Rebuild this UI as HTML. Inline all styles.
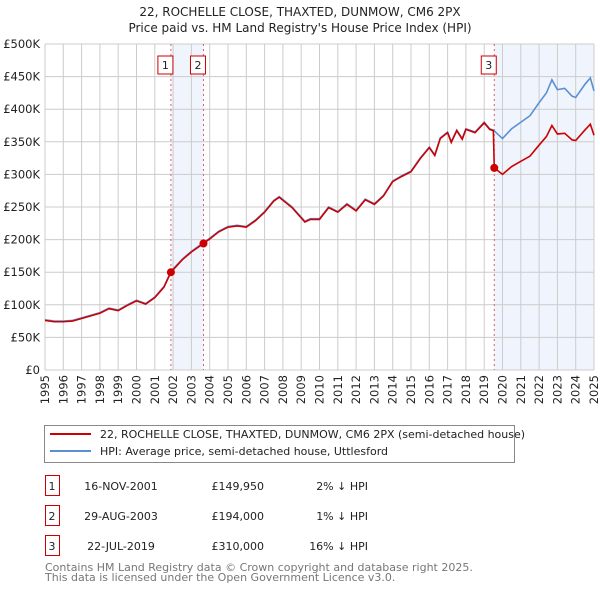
<!DOCTYPE html>
<html><head><meta charset="utf-8"><style>
body{margin:0;background:#fff;font-family:"DejaVu Sans","Liberation Sans",sans-serif;}
svg text{font-family:"DejaVu Sans","Liberation Sans",sans-serif;}
</style></head><body>
<svg id="c" width="600" height="590" xmlns="http://www.w3.org/2000/svg">
<text x="300" y="16" text-anchor="middle" font-size="12" fill="#222">22, ROCHELLE CLOSE, THAXTED, DUNMOW, CM6 2PX</text>
<text x="300" y="32" text-anchor="middle" font-size="12" fill="#222">Price paid vs. HM Land Registry's House Price Index (HPI)</text>
<g id="grid"></g><g id="plot"></g><g id="axes"></g>
<rect x="44.5" y="425.5" width="470" height="37" fill="#fff" stroke="#888"/>
<line x1="50" y1="434" x2="91" y2="434" stroke="#cc0000" stroke-width="2"/>
<text x="100" y="438" font-size="11" fill="#222">22, ROCHELLE CLOSE, THAXTED, DUNMOW, CM6 2PX (semi-detached house)</text>
<line x1="50" y1="451" x2="91" y2="451" stroke="#5b8fd4" stroke-width="2"/>
<text x="100" y="455" font-size="11" fill="#222">HPI: Average price, semi-detached house, Uttlesford</text>
<g id="table" font-size="11" fill="#222"></g>
<text x="45" y="571" font-size="11" fill="#777">Contains HM Land Registry data © Crown copyright and database right 2025.</text>
<text x="45" y="581" font-size="11" fill="#777">This data is licensed under the Open Government Licence v3.0.</text>
</svg>
<script>
const hpiYears=[1995,1995.5,1996,1996.5,1997,1997.5,1998,1998.5,1999,1999.5,2000,2000.5,2001,2001.5,2001.9,2002.5,2003,2003.7,2004,2004.5,2005,2005.5,2006,2006.5,2007,2007.5,2007.8,2008.5,2009.2,2009.5,2010,2010.5,2011,2011.5,2012,2012.5,2013,2013.5,2014,2014.5,2015,2015.5,2016,2016.3,2016.6,2017,2017.2,2017.5,2017.8,2018,2018.5,2019,2019.3,2019.5,2020,2020.5,2021,2021.5,2022,2022.4,2022.7,2023,2023.4,2023.8,2024,2024.5,2024.8,2025];
const hpiValues=[77,75,75,76,80,84,88,95,92,100,107,102,112,128,152,170,182,196,202,213,220,222,220,230,243,260,266,250,228,232,232,250,243,255,245,262,255,268,290,298,305,325,342,330,356,365,350,368,355,370,365,380,370,368,355,370,380,390,410,425,445,430,432,420,418,438,448,428];
const redYears=[1995,1995.5,1996,1996.5,1997,1997.5,1998,1998.5,1999,1999.5,2000,2000.5,2001,2001.5,2001.88,2002.5,2003,2003.66,2004,2004.5,2005,2005.5,2006,2006.5,2007,2007.5,2007.8,2008.5,2009.2,2009.5,2010,2010.5,2011,2011.5,2012,2012.5,2013,2013.5,2014,2014.5,2015,2015.5,2016,2016.3,2016.6,2017,2017.2,2017.5,2017.8,2018,2018.5,2019,2019.3,2019.5,2019.55,2020,2020.5,2021,2021.5,2022,2022.4,2022.7,2023,2023.4,2023.8,2024,2024.5,2024.8,2025];
const redValues=[76,74,74,75,79,83,87,94,91,99,106,101,111,127,149.95,169,181,194,201,212,219,221,219,229,242,259,265,249,227,231,231,249,242,254,244,261,254,267,289,297,304,324,341,329,355,364,349,367,354,369,364,379,369,367,310,300,312,320,328,345,358,375,362,363,353,352,368,377,360];
const saleYears=[2001.88,2003.66,2019.55];
const saleValues=[149.95,194,310];
const saleLabels=["1","2","3"];
const saleDates=["16-NOV-2001","29-AUG-2003","22-JUL-2019"];
const salePrices=["£149,950","£194,000","£310,000"];
const saleDiffs=["2% ↓ HPI","1% ↓ HPI","16% ↓ HPI"];
const yTicks=[0,50,100,150,200,250,300,350,400,450,500];
const yTickLabels=["£0","£50K","£100K","£150K","£200K","£250K","£300K","£350K","£400K","£450K","£500K"];
const xTicks=[1995,1996,1997,1998,1999,2000,2001,2002,2003,2004,2005,2006,2007,2008,2009,2010,2011,2012,2013,2014,2015,2016,2017,2018,2019,2020,2021,2022,2023,2024,2025];

const NS="http://www.w3.org/2000/svg";
const X=y=>45+(y-1995)*18.3;
const Y=v=>370-v*0.652;
function mk(p,t,a){const e=document.createElementNS(NS,t);for(const k in a)e.setAttribute(k,a[k]);p.appendChild(e);return e;}
const grid=document.getElementById('grid'),plot=document.getElementById('plot'),axes=document.getElementById('axes'),table=document.getElementById('table');
let s1=mk(grid,'rect',{x:X(saleYears[0]),y:44,width:X(saleYears[1])-X(saleYears[0]),height:326,fill:'#f0f4fc'});


let s2=mk(grid,'rect',{x:X(saleYears[2]),y:44,width:X(2025)-X(saleYears[2]),height:326,fill:'#f0f4fc'});


yTicks.forEach((v,i)=>{
 let l=mk(grid,'line',{x1:45,x2:594,y1:Y(v),y2:Y(v),stroke:'#ccc'});
 
 
 let t=mk(axes,'text',{x:40,y:Y(v)+4,'text-anchor':'end','font-size':11.5,fill:'#222'});
 t.textContent=yTickLabels[i];
 
 
});
xTicks.forEach(y=>{
 let l=mk(grid,'line',{x1:X(y),x2:X(y),y1:44,y2:370,stroke:'#ccc'});
 
 
 const tx=X(y)+4, ty=375;
 let t=mk(axes,'text',{x:tx,y:ty,'text-anchor':'end','font-size':11.5,fill:'#222',transform:'rotate(-90 '+tx+' '+ty+')'});
 t.textContent=y;
 
 
});
saleYears.forEach((y,i)=>{
 let l=mk(grid,'line',{x1:X(y),x2:X(y),y1:44,y2:370,stroke:'#e06060','stroke-dasharray':'2,3'});
 
 
});
let hp=mk(plot,'polyline',{points:hpiYears.map((y,i)=>X(y)+','+Y(hpiValues[i])).join(' '),fill:'none',stroke:'#5b8fd4','stroke-width':1.6});


let rp=mk(plot,'polyline',{points:redYears.map((y,i)=>X(y)+','+Y(redValues[i])).join(' '),fill:'none',stroke:'#cc0000','stroke-width':1.6});


saleYears.forEach((y,i)=>{
 let c=mk(plot,'circle',{cx:X(y),cy:Y(saleValues[i]),r:4,fill:'#cc0000'});
 
 
 let b=mk(plot,'rect',{x:X(y)-13,y:56,width:15,height:18,fill:'#fff',stroke:'#cc0000'});
 
 
 let t=mk(plot,'text',{x:X(y)-5.5,y:69,'text-anchor':'middle','font-size':11,fill:'#222'});
 t.textContent=saleLabels[i];
 
 
 const ry=476+i*30;
 let tb=mk(table,'rect',{x:45.5,y:ry-0.5,width:14,height:20,fill:'#fff',stroke:'#cc0000'});
 
 
 const cells=[[52,saleLabels[i],'middle'],[121,saleDates[i],'middle'],[264,salePrices[i],'end'],[368,saleDiffs[i],'end']];
 cells.forEach(c=>{let t2=mk(table,'text',{x:c[0],y:ry+14,'text-anchor':c[2]});t2.textContent=c[1];
 
 });
});
</script>
</body></html>
